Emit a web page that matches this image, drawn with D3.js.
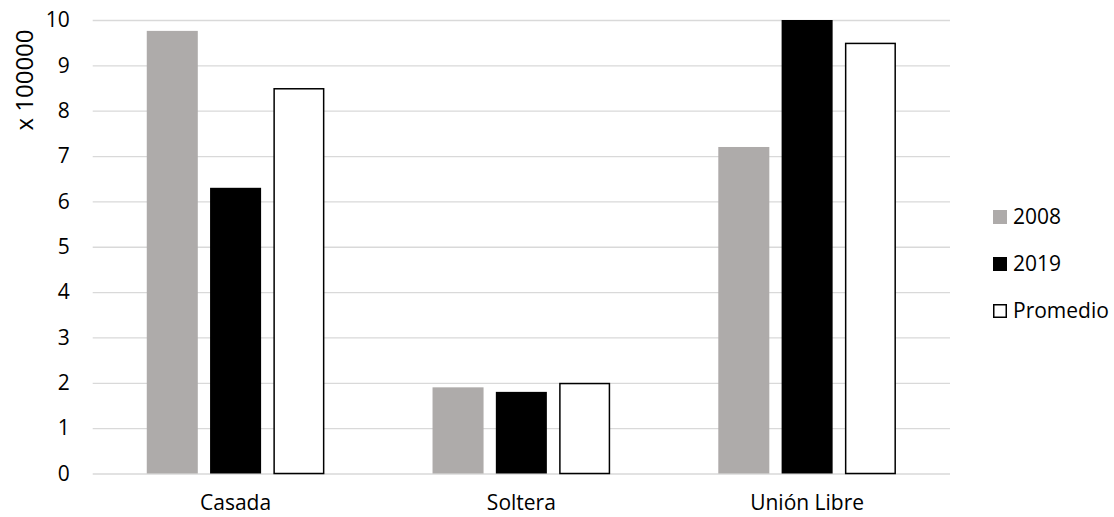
<!DOCTYPE html>
<html>
<head>
<meta charset="utf-8">
<script src="https://cdn.jsdelivr.net/npm/d3@7"></script>
<style>
  html, body { margin: 0; padding: 0; background: #fff; }
  svg { display: block; }
  text { font-family: "Open Sans", "Noto Sans", sans-serif; fill: #000; }
</style>
</head>
<body>
<svg id="chart" width="1114" height="517"></svg>
<script>
// Estado civil: valores en unidades de 100000
const categories = ["Casada", "Soltera", "Unión Libre"];
const seriesNames = ["2008", "2019", "Promedio"];
const values2008 = [9.76, 1.9, 7.2];
const values2019 = [6.3, 1.8, 10.0];
const valuesPromedio = [8.5, 2.0, 9.5];
const yTicks = [0, 1, 2, 3, 4, 5, 6, 7, 8, 9, 10];
const yTitle = "x 100000";

const seriesValues = [values2008, values2019, valuesPromedio];
const fills = ["#AEABAA", "#000000", "#FFFFFF"];
const strokes = ["none", "none", "#000000"];
const fontSize = 21;

const svg = d3.select("#chart");
const plot = { left: 92.7, right: 950, top: 20, bottom: 473.5 };

const x0 = d3.scaleBand().domain(categories).range([plot.left, plot.right]).padding(0);
const x1 = d3.scaleBand().domain(seriesNames).range([0, x0.bandwidth()])
  .paddingInner(0.194).paddingOuter(0.854);
const y = d3.scaleLinear().domain([0, 10]).range([plot.bottom, plot.top]);

// Líneas de cuadrícula y etiquetas del eje Y
const yAxis = d3.axisLeft(y).tickValues(yTicks).tickSize(-(plot.right - plot.left)).tickPadding(23).tickFormat(d3.format("d"));
const gy = svg.append("g").attr("transform", `translate(${plot.left},0)`).call(yAxis);
gy.select(".domain").remove();
gy.selectAll(".tick line").attr("stroke", "#D9D9D9").attr("stroke-width", 1.3);
gy.selectAll(".tick text").attr("font-size", fontSize).attr("fill", "#000");

// Barras
const rows = categories.map((c, i) => ({ cat: c, vals: seriesNames.map((s, j) => ({ s, j, v: seriesValues[j][i] })) }));
const groups = svg.append("g").selectAll("g").data(rows).join("g")
  .attr("transform", d => `translate(${x0(d.cat)},0)`);
groups.selectAll("rect").data(d => d.vals).join("rect")
  .attr("x", d => x1(d.s) + (d.j === 2 ? 0.75 : 0))
  .attr("y", d => y(d.v) + (d.j === 2 ? 0.75 : 0))
  .attr("width", d => x1.bandwidth() - (d.j === 2 ? 1.5 : 0))
  .attr("height", d => plot.bottom - y(d.v) - (d.j === 2 ? 0.75 : 0))
  .attr("fill", d => fills[d.j])
  .attr("stroke", d => strokes[d.j])
  .attr("stroke-width", 1.5);

// Etiquetas de categorías
const xAxis = d3.axisBottom(x0).tickSize(0).tickPadding(22);
const gx = svg.append("g").attr("transform", `translate(0,${plot.bottom})`).call(xAxis);
gx.select(".domain").remove();
gx.selectAll(".tick text").attr("font-size", fontSize).attr("fill", "#000");

// Título del eje Y
svg.append("text")
  .attr("transform", "translate(32.5,80) rotate(-90)")
  .attr("text-anchor", "middle")
  .attr("font-size", 24)
  .text(yTitle);

// Leyenda
const legend = svg.append("g").selectAll("g").data(seriesNames).join("g")
  .attr("transform", (d, i) => `translate(993,${224 + i * 47})`);
legend.append("rect")
  .attr("x", (d, i) => i === 2 ? 0.75 : 0)
  .attr("y", (d, i) => i === 2 ? -13.25 : -14)
  .attr("width", (d, i) => i === 2 ? 12.5 : 14)
  .attr("height", (d, i) => i === 2 ? 12.5 : 14)
  .attr("fill", (d, i) => fills[i])
  .attr("stroke", (d, i) => strokes[i])
  .attr("stroke-width", 1.5);
legend.append("text")
  .attr("x", 20)
  .attr("y", 0)
  .attr("font-size", fontSize)
  .text(d => d);
</script>
</body>
</html>
